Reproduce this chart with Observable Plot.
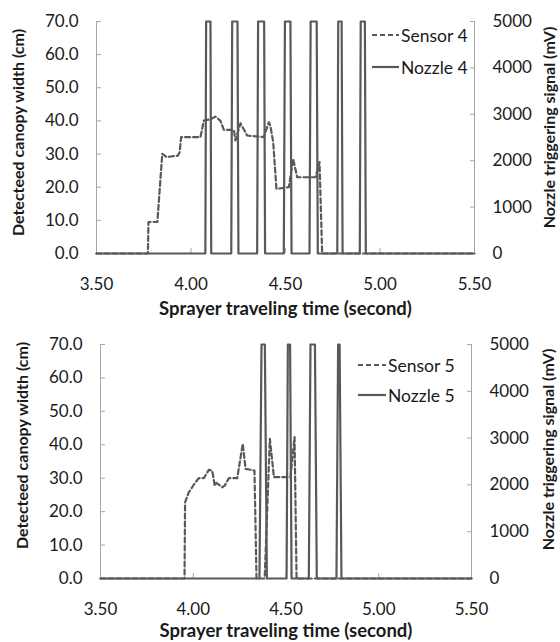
<!DOCTYPE html>
<html>
<head>
<meta charset="utf-8">
<script src="https://cdn.jsdelivr.net/npm/d3@7"></script>
<script src="https://cdn.jsdelivr.net/npm/@observablehq/plot@0.6"></script>
<style>
  body { margin: 0; background: #fff; }
  #wrap { position: relative; width: 560px; height: 642px; font-family: Lato, sans-serif; overflow: hidden; }
  .panel { position: relative; width: 560px; height: 321px; }
  .panel svg.plot { display: block; }
  .legend { position: absolute; font-family: Lato, sans-serif; font-size: 17.5px; color: #1a1a1a; }
  .legend .row { position: absolute; white-space: nowrap; display: flex; align-items: center; }
  .legend .row svg { margin-right: 2px; }
</style>
</head>
<body>
<div id="wrap"></div>
<script>
// ---------- data ----------
const xTicks = [3.5, 4.0, 4.5, 5.0, 5.5];
const widthTicks = [0, 10, 20, 30, 40, 50, 60, 70];
const signalTicks = [0, 1000, 2000, 3000, 4000, 5000];
const widthMax = 70;
const signalMax = 5000;

const xTitle = "Sprayer traveling time (second)";
const leftTitle = "Detecteed canopy width (cm)";
const rightTitle = "Nozzle triggering signal (mV)";

// Panel 1 : Sensor 4 / Nozzle 4
const sensor4Time  = [3.50, 3.772, 3.775, 3.822, 3.848, 3.870, 3.930, 3.940, 3.948, 4.050, 4.068, 4.103, 4.130, 4.156, 4.174, 4.227, 4.235, 4.262, 4.297, 4.385, 4.412, 4.420, 4.435, 4.452, 4.518, 4.540, 4.562, 4.659, 4.680, 4.694, 5.50];
const sensor4Width = [0,    0,     9.5,   9.5,   30.1,  29.1,  29.5,  30.6,  35.1,  35.1,  40.1,  40.5,  41.3,  40.0,  37.3,  37.3,  34.1,  39.3,  35.6,  35.1,  39.6,  38.5,  33.6,  19.5,  20.0,  28.6,  23.0,  23.0,  27.6,  0,     0];
const nozzle4Time   = [3.50, 4.076, 4.080, 4.103, 4.107, 4.213, 4.218, 4.246, 4.251, 4.350, 4.355, 4.387, 4.392, 4.491, 4.497, 4.526, 4.532, 4.627, 4.633, 4.665, 4.671, 4.774, 4.779, 4.797, 4.802, 4.893, 4.898, 4.920, 4.925, 5.50];
const nozzle4Signal = [0,    0,     5000,  5000,  0,     0,     5000,  5000,  0,     0,     5000,  5000,  0,     0,     5000,  5000,  0,     0,     5000,  5000,  0,     0,     5000,  5000,  0,     0,     5000,  5000,  0,     0];

// Panel 2 : Sensor 5 / Nozzle 5
const sensor5Time  = [3.50, 3.953, 3.956, 3.976, 3.994, 4.012, 4.030, 4.057, 4.084, 4.102, 4.116, 4.125, 4.156, 4.170, 4.192, 4.237, 4.267, 4.282, 4.330, 4.341, 4.385, 4.413, 4.435, 4.524, 4.546, 4.557, 5.50];
const sensor5Width = [0,    0,     22.8,  25.8,  27.3,  28.8,  30.0,  30.0,  32.5,  32.3,  27.8,  28.6,  27.3,  27.8,  30.0,  30.0,  40.3,  32.8,  32.3,  0,     0,     41.8,  30.3,  30.3,  42.3,  0,     0];
const nozzle5Time   = [3.50, 4.357, 4.368, 4.386, 4.397, 4.503, 4.510, 4.522, 4.530, 4.623, 4.632, 4.656, 4.666, 4.772, 4.781, 4.789, 4.799, 5.50];
const nozzle5Signal = [0,    0,     5000,  5000,  0,     0,     5000,  5000,  0,     0,     5000,  5000,  0,     0,     5000,  5000,  0,     0];

// ---------- styles ----------
const lineGray = "#595959";
const axisGray = "#a6a6a6";
const textColor = "#1a1a1a";
const fontFamily = "Lato, sans-serif";

const toWidth = mv => mv * widthMax / signalMax;
const toSignal = w => Math.round(w * signalMax / widthMax);

function makePanel(cfg) {
  const sensor = cfg.sensorTime.map((t, i) => ({t, v: cfg.sensorWidth[i]}));
  const nozzle = cfg.nozzleTime.map((t, i) => ({t, v: cfg.nozzleSignal[i]}));
  const m = cfg.margins;
  const plot = Plot.plot({
    width: 560,
    height: 321,
    marginTop: m.top, marginBottom: m.bottom, marginLeft: m.left, marginRight: m.right,
    x: {domain: [3.5, 5.5], label: null},
    y: {domain: [0, widthMax], label: null},
    style: {fontFamily, fontSize: "17px", color: textColor, background: "white", overflow: "visible"},
    marks: [
      Plot.ruleX([3.5, 5.5], {stroke: axisGray, strokeWidth: 1}),
      Plot.axisX(xTicks, {tickFormat: d => d.toFixed(2), tickSize: -5, tickPadding: 29, stroke: axisGray, fill: textColor, fontSize: 17, label: null}),
      Plot.axisY(widthTicks, {anchor: "left", tickFormat: d => d.toFixed(1), tickSize: -5, tickPadding: 23, stroke: axisGray, fill: textColor, fontSize: 17, label: null}),
      Plot.axisY(signalTicks.map(toWidth), {anchor: "right", tickFormat: d => String(toSignal(d)), tickSize: -5, tickPadding: 23, stroke: axisGray, fill: textColor, fontSize: 17, label: null}),
      Plot.line(sensor, {x: "t", y: "v", stroke: lineGray, strokeWidth: 2.2, strokeDasharray: "5,3"}),
      Plot.line(nozzle, {x: "t", y: d => toWidth(d.v), stroke: lineGray, strokeWidth: 2.2}),
      Plot.text([xTitle], {text: d => d, frameAnchor: "bottom", dy: cfg.xTitleDy, lineAnchor: "middle", textAnchor: "middle", fontWeight: "bold", fontSize: 18.5, fill: textColor}),
      Plot.text([leftTitle], {text: d => d, frameAnchor: "left", rotate: -90, dx: cfg.leftTitle.dx, dy: cfg.leftTitle.dy, lineAnchor: "middle", textAnchor: "middle", fontWeight: "bold", fontSize: 16, fill: textColor}),
      Plot.text([rightTitle], {text: d => d, frameAnchor: "right", rotate: -90, dx: cfg.rightTitle.dx, dy: cfg.rightTitle.dy, lineAnchor: "middle", textAnchor: "middle", fontWeight: "bold", fontSize: 16, fill: textColor})
    ]
  });
  plot.classList.add("plot");

  const div = document.createElement("div");
  div.className = "panel";
  div.appendChild(plot);

  // legend
  const leg = document.createElement("div");
  leg.className = "legend";
  leg.style.left = cfg.legend.left + "px";
  leg.style.top = "0px";
  cfg.legend.items.forEach((it, i) => {
    const row = document.createElement("div");
    row.className = "row";
    row.style.top = (cfg.legend.rows[i] - 11) + "px";
    row.style.height = "22px";
    row.innerHTML = `<svg width="${cfg.legend.sample}" height="6"><line x1="0" x2="${cfg.legend.sample}" y1="3" y2="3" stroke="${lineGray}" stroke-width="2.2" ${it.dash ? 'stroke-dasharray="5,3"' : ""}/></svg><span>${it.label}</span>`;
    leg.appendChild(row);
  });
  div.appendChild(leg);
  return div;
}

const wrap = document.getElementById("wrap");
wrap.appendChild(makePanel({
  sensorTime: sensor4Time, sensorWidth: sensor4Width,
  nozzleTime: nozzle4Time, nozzleSignal: nozzle4Signal,
  margins: {top: 21, bottom: 68, left: 96, right: 86},
  xTitleDy: 56,
  leftTitle: {dx: -78, dy: -5},
  rightTitle: {dx: 75, dy: -10},
  legend: {left: 372, sample: 27, rows: [35, 67], items: [{label: "Sensor 4", dash: true}, {label: "Nozzle 4", dash: false}]}
}));
wrap.appendChild(makePanel({
  sensorTime: sensor5Time, sensorWidth: sensor5Width,
  nozzleTime: nozzle5Time, nozzleSignal: nozzle5Signal,
  margins: {top: 23, bottom: 64, left: 100, right: 89},
  xTitleDy: 53,
  leftTitle: {dx: -78, dy: -16},
  rightTitle: {dx: 77, dy: -12},
  legend: {left: 358, sample: 28, rows: [44, 74], items: [{label: "Sensor 5", dash: true}, {label: "Nozzle 5", dash: false}]}
}));
</script>
</body>
</html>
